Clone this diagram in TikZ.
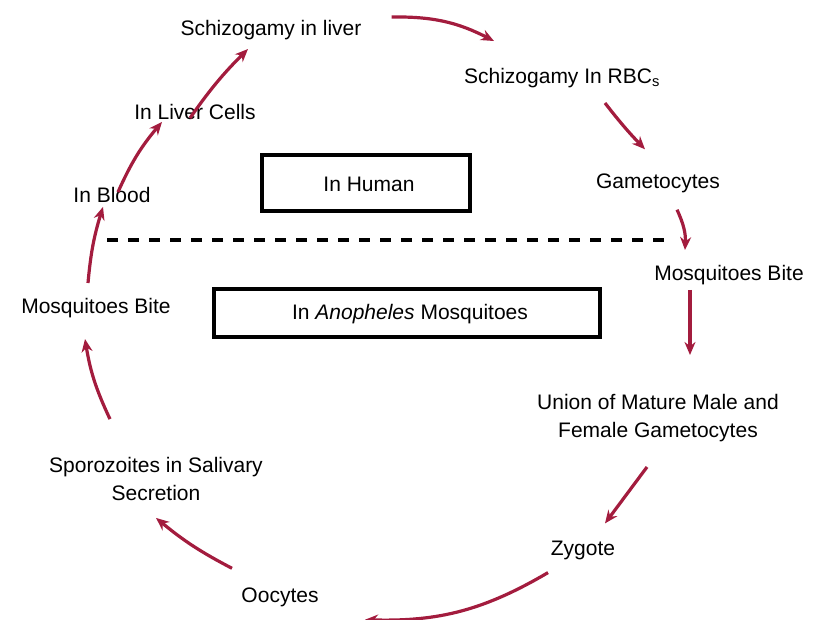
\documentclass[tikz,border=0pt]{standalone}
\usepackage{fontspec}
\setmainfont{Liberation Sans}
\usetikzlibrary{arrows.meta}
\definecolor{arrred}{HTML}{A31C3E}
\begin{document}
\begin{tikzpicture}[x=1pt,y=1pt,
  lbl/.style={inner sep=0pt,align=center,font=\fontsize{21}{28}\selectfont},
  arr/.style={draw=arrred,line width=3.2pt,-{Stealth[length=13pt,width=11pt]}},
  boxx/.style={draw=black,line width=3.4pt}]
\useasboundingbox (0,0) rectangle (816,-619);
% nodes
\node[lbl] (sliver) at (271,-30) {Schizogamy in liver};
\node[lbl] (srbc)   at (562,-78) {Schizogamy In RBC\textsubscript{s}};
\node[lbl] (game)   at (658,-183) {Gametocytes};
\node[lbl] (mbr)    at (729,-275) {Mosquitoes Bite};
\node[lbl] (union)  at (658,-418) {Union of Mature Male and\\Female Gametocytes};
\node[lbl] (zyg)    at (583,-550) {Zygote};
\node[lbl] (ooc)    at (280,-597) {Oocytes};
\node[lbl] (spor)   at (156,-479) {Sporozoites in Salivary\\Secretion};
\node[lbl] (mbl)    at (96,-308) {Mosquitoes Bite};
\node[lbl] (blood)  at (112,-195) {In Blood};
\node[lbl] (cells)  at (195,-112) {In Liver Cells};
% boxes
\draw[boxx] (262,-155) rectangle (470,-211);
\node[lbl] (human) at (369,-184) {In Human};
\draw[boxx] (214,-289) rectangle (600,-337);
\node[lbl] (anoph) at (410,-314) {In \textit{Anopheles} Mosquitoes};
% dashed separator
\coordinate (dl) at (107,-240);
\coordinate (dr) at (667,-240);
\draw[line width=3.4pt,dash pattern=on 11pt off 10pt] (dl) -- (dr);
% arrows
\draw[arr] ([xshift=6pt,yshift=-5pt]blood.north) to[bend left=8] ([xshift=-33pt,yshift=-2pt]cells.south);
\draw[arr] ([xshift=-5pt,yshift=-14pt]cells.north) to[bend left=5] ([xshift=-23pt,yshift=-9pt]sliver.south);
\draw[arr] ([xshift=30pt,yshift=13pt]sliver.east) to[bend left=14] ([xshift=-68pt,yshift=27pt]srbc.north);
\draw[arr] ([xshift=43pt,yshift=-15pt]srbc.south) to[bend right=3] ([xshift=-13pt,yshift=24pt]game.north);
\draw[arr] ([xshift=19pt,yshift=-17pt]game.south) to[bend left=14] ([xshift=-44pt,yshift=15pt]mbr.north);
\draw[arr] ([xshift=-39pt,yshift=-5pt]mbr.south) -- ([xshift=-39pt,yshift=-70pt]mbr.south);
\draw[arr] ([xshift=-11pt,yshift=-25pt]union.south) -- ([xshift=22pt,yshift=17pt]zyg.north);
\draw[arr] ([xshift=-35pt,yshift=-13pt]zyg.south) to[bend left=16] ([xshift=85pt,yshift=-13pt]ooc.south);
\draw[arr] ([xshift=-48pt,yshift=19pt]ooc.north) to[bend left=6] ([xshift=0pt,yshift=-17pt]spor.south);
\draw[arr] ([xshift=-46pt,yshift=38pt]spor.north) to[bend left=8] ([xshift=-11pt,yshift=-21pt]mbl.south);
\draw[arr] ([xshift=-8pt,yshift=15pt]mbl.north) to[bend left=6] ([xshift=-9pt,yshift=-4pt]blood.south);
\end{tikzpicture}
\end{document}
